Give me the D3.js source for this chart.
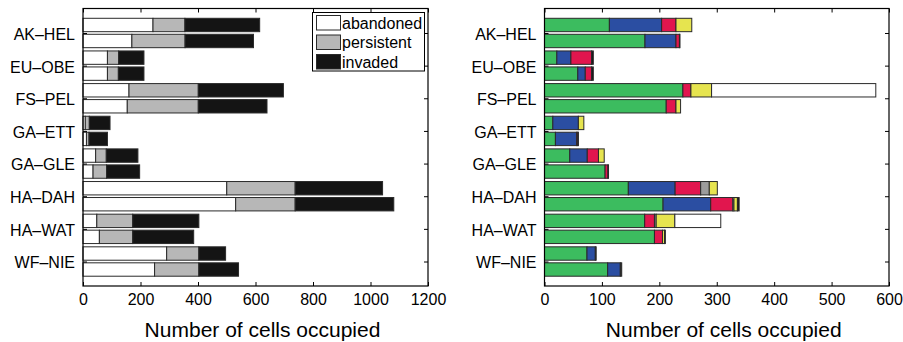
<!DOCTYPE html>
<html><head><meta charset="utf-8">
<script src="https://cdn.jsdelivr.net/npm/d3@7"></script>
<style>
body{margin:0;background:#fff;}
svg{display:block;font-family:"Liberation Sans",Arial,Helvetica,sans-serif;}
</style></head>
<body>
<svg id="chart" width="903" height="342"></svg>
<script>
// ---------- DATA ----------
const categories = ["AK\u2013HEL","EU\u2013OBE","FS\u2013PEL","GA\u2013ETT","GA\u2013GLE","HA\u2013DAH","HA\u2013WAT","WF\u2013NIE"];
// two bars per category (upper, lower), in category order
const leftAbandoned  = [243.5,170, 85,85, 160,154, 8,12, 44,35, 500,531, 48,57, 291,249];
const leftPersistent = [111,185, 39,38, 241,247, 14,9, 37,47, 238,207, 125,116, 112,154];
const leftInvaded    = [260,238, 88,89, 296,239, 72,64, 110,115, 304,343, 230,212, 93,138];
const leftSeries = ["abandoned","persistent","invaded"];
const leftTicks = [0,200,400,600,800,1000,1200];

const rightGreen  = [113,175, 21.5,58, 241,212, 14.5,19, 44,105.5, 146,206.5, 174.5,191.5, 74,110];
const rightBlue   = [91,54, 24.5,13, 0,0, 44.5,37, 30.5,0, 81.5,83, 0,0, 14.5,22];
const rightRed    = [25,6, 36,11, 14,17, 0,2, 19.5,5, 44.5,38.5, 17,14, 0,0];
const rightGrey   = [0,0, 0,0, 0,0, 0,0, 0,0, 15,2, 3,0, 0,0];
const rightYellow = [27.5,0, 0,0, 36,8, 9.5,0, 10,0, 14,6, 32.5,3.5, 0,0];
const rightBlack  = [0,1, 3,3, 0,0, 0,1, 0,1, 0,3, 0,1.5, 1.5,2.5];
const rightWhite  = [0,0, 0,0, 286,0, 0,0, 0,0, 0,0, 80,0, 0,0];
const rightTicks = [0,100,200,300,400,500,600];

const xTitle = "Number of cells occupied";

// ---------- LAYOUT ----------
const svg = d3.select("#chart");
const plotTop = 8.5, plotBottom = 286;
const panels = [
  {x0:83, x1:428, max:1200, ticks:leftTicks,
   keys:leftSeries,
   cols:{abandoned:"#ffffff",persistent:"#b7b7b7",invaded:"#141414"},
   data:{abandoned:leftAbandoned,persistent:leftPersistent,invaded:leftInvaded}},
  {x0:544.5, x1:889, max:600, ticks:rightTicks,
   keys:["green","blue","red","grey","yellow","black","white"],
   cols:{green:"#3cbc5f",blue:"#2b4ea2",red:"#e1164e",grey:"#9c9c9c",yellow:"#e6e44f",black:"#1a1a1a",white:"#ffffff"},
   data:{green:rightGreen,blue:rightBlue,red:rightRed,grey:rightGrey,yellow:rightYellow,black:rightBlack,white:rightWhite}}
];

const y = d3.scaleLinear().domain([0.25, 8.75]).range([plotTop, plotBottom]);
const barOff = 0.245, barH = 0.41;

panels.forEach(p => {
  const g = svg.append("g");
  const x = d3.scaleLinear().domain([0, p.max]).range([p.x0, p.x1]);

  const rows = d3.range(categories.length*2).map(i => {
    const r = {cat: Math.floor(i/2), k: i%2};
    p.keys.forEach(key => r[key] = p.data[key][i]);
    return r;
  });
  const stacked = d3.stack().keys(p.keys)(rows);
  stacked.forEach(layer => {
    g.append("g").selectAll("rect")
      .data(layer.filter(d => d[1]-d[0] > 0))
      .join("rect")
      .attr("x", d => x(d[0]))
      .attr("width", d => x(d[1]) - x(d[0]))
      .attr("y", d => y(d.data.cat + 1 + (d.data.k===0 ? -barOff : barOff) - barH/2))
      .attr("height", y(barH) - y(0))
      .attr("fill", p.cols[layer.key])
      .attr("stroke", "#2a2a2a")
      .attr("stroke-width", 1);
  });

  const ax = g.append("g").attr("transform", `translate(0,${plotBottom})`)
    .call(d3.axisBottom(x).tickValues(p.ticks).tickSize(-4).tickPadding(8).tickFormat(d3.format("d")));
  const axT = g.append("g").attr("transform", `translate(0,${plotTop})`)
    .call(d3.axisTop(x).tickValues(p.ticks).tickSize(-4).tickFormat(""));
  const yVals = d3.range(1, categories.length+1);
  const ay = g.append("g").attr("transform", `translate(${p.x0},0)`)
    .call(d3.axisLeft(y).tickValues(yVals).tickSize(-4).tickPadding(8).tickFormat(d => categories[d-1]));
  const ayR = g.append("g").attr("transform", `translate(${p.x1},0)`)
    .call(d3.axisRight(y).tickValues(yVals).tickSize(-4).tickFormat(""));
  [ax,axT,ay,ayR].forEach(a => {
    a.select(".domain").remove();
    a.selectAll("line").attr("stroke","#000");
    a.selectAll("text").attr("font-size",16).attr("fill","#000")
      .attr("font-family","'Liberation Sans',Arial,sans-serif");
  });
  ay.selectAll("text").attr("dy","0.4em");

  g.append("rect").attr("x", p.x0).attr("y", plotTop)
    .attr("width", p.x1 - p.x0).attr("height", plotBottom - plotTop)
    .attr("fill","none").attr("stroke","#000").attr("stroke-width",1.2);

  g.append("text").attr("x", (p.x0+p.x1)/2 + 7).attr("y", 337)
    .attr("text-anchor","middle").attr("font-size",21).attr("fill","#000")
    .text(xTitle);
});

// legend (left panel)
const lg = svg.append("g");
lg.append("rect").attr("x",312.5).attr("y",12.5).attr("width",112).attr("height",58.5)
  .attr("fill","#fff").attr("stroke","#000").attr("stroke-width",1);
leftSeries.forEach((s,i) => {
  lg.append("rect").attr("x",316.5).attr("y",15.5 + i*19.5).attr("width",24).attr("height",14.5)
    .attr("fill", panels[0].cols[s]).attr("stroke","#2a2a2a").attr("stroke-width",1);
  lg.append("text").attr("x",342).attr("y",28.5 + i*19.5).attr("font-size",16).attr("fill","#000").text(s);
});
</script>
</body></html>
